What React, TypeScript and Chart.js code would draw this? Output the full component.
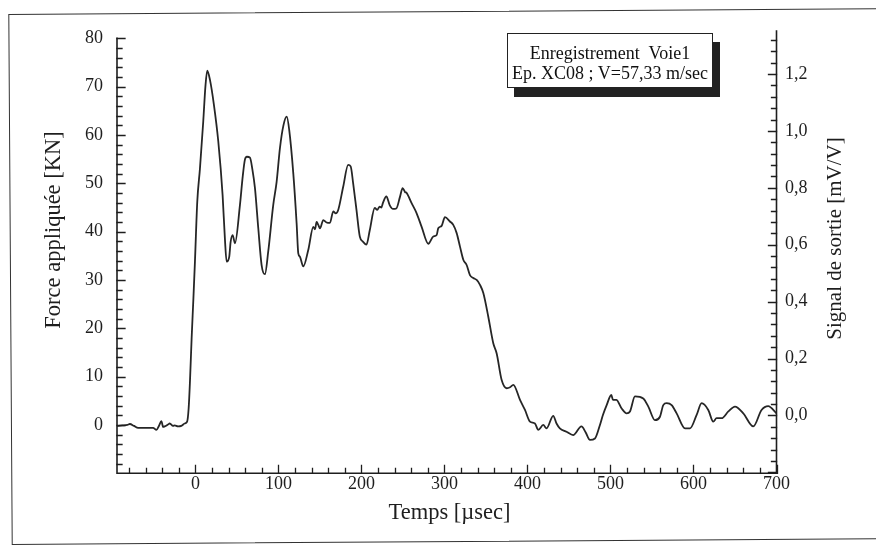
import React, { useEffect, useRef } from 'react';
import { Chart, registerables } from 'chart.js';

Chart.register(...registerables);

// ---- data ----
const timeUs = [
  -95, -88, -82, -79, -74, -69, -60, -51, -47, -44, -41, -39, -37, -33, -31, -27, -25, -21, -17, -13,
  -10, -8.2, -6.6, -4.6, -2.5, -0.6, 2.2, 5.4, 9.4, 12, 14.2, 17.5, 22.3, 27.5, 32.7, 35.5, 37.6, 40.7,
  42.4, 44.8, 47.6, 53.6, 57, 59.6, 62, 65.7, 68.5, 71.7, 75.7, 79.7, 83.7, 87.7, 93.7, 97.8, 101.8,
  106, 110, 113, 117.9, 121.9, 123.9, 125.9, 129.9, 135.9, 142, 144, 146, 148, 150, 154, 158, 162,
  166, 169, 172, 178, 184, 187, 190, 194, 198, 202, 206, 210, 216, 219, 222, 224, 226, 230, 234, 238,
  242, 246.4, 249.6, 252.5, 254.5, 260.4, 266.5, 272.5, 280.5, 286.5, 290.6, 292.5, 296.6, 300.6,
  306.6, 310.6, 314.7, 318.7, 322.7, 326.7, 330.7, 334.7, 338.8, 342.8, 346.8, 352.8, 358.8, 362.9,
  368.9, 374.9, 379, 382.9, 391, 397, 403, 409, 413, 419, 423, 431, 435, 439, 447, 455, 465, 470,
  475.3, 481.3, 487.3, 491, 495.4, 501, 503, 507, 513.5, 519.5, 523.5, 529.5, 539.5, 545.6, 553.6,
  559.6, 563.6, 567.7, 573.7, 579.7, 589.8, 595.8, 603.8, 609.8, 617.8, 623.8, 627.8, 634, 642, 650,
  660, 672, 682, 690, 700,
];
const forceKN = [
  -0.2, -0.1, 0, 0.2, -0.2, -0.6, -0.6, -0.6, -1.0, -0.2, 0.8, -0.4, -0.3, 0.1, 0.3, -0.2, -0.1, -0.3, -0.2, 0.3,
  0.7, 3.4, 9, 17.9, 26, 33.8, 46.2, 53, 62.8, 70, 73.3, 71.4, 66.2, 58.7, 47.6, 38.5, 33.8, 34.8,
  37.9, 39.3, 37.6, 45.5, 51.5, 54.9, 55.5, 55.3, 53, 49, 40.7, 33.1, 31.2, 35.9, 45.5, 50.3, 57.3,
  62, 63.8, 61, 52, 41.7, 35.5, 34.8, 32.8, 36.2, 41, 40.5, 42, 41.4, 40.7, 42.4, 41.9, 41.8,
  44.2, 43.8, 44.5, 49.3, 53.8, 53.5, 50, 44.5, 39, 37.9, 37.3, 40.3, 44.9, 44.5, 45.2, 45.0, 46, 47.3, 45.5, 44.7,
  44.8, 47.2, 49, 48.2, 48, 45.9, 43.8, 41, 37.5, 39, 39.3, 40.7, 41.2, 43,
  42.1, 41.4, 39.7, 36.9, 34.2, 33.1, 31, 30.4, 30, 29, 27.3, 22.4, 16.9, 14.8,
  9.3, 7.6, 7.8, 8.3, 5.2, 3.1, 0.7, 0.3, -1, 0, -0.7, 1.9, 0.3, -0.7, -1.4, -2.1, -0.3, -1.5,
  -3.1, -2.8, 0, 2.1, 4.1, 6.2, 5.2, 5.2, 3.4, 2.4, 2.8, 5.9, 5.5, 3.8, 1.0,
  1.7, 4.1, 4.5, 4.1, 2.4, -0.7, -0.7, 2.1, 4.5, 3.1, 0.7, 1.4, 1.4, 2.8, 3.8,
  2.4, -0.3, 3.1, 3.9, 2.4,
];

const xTickLabels = [0, 100, 200, 300, 400, 500, 600, 700];
const leftTickLabels = [0, 10, 20, 30, 40, 50, 60, 70, 80];
const rightTickLabels = [0, 0.2, 0.4, 0.6, 0.8, 1.0, 1.2];

const xTitle = 'Temps [µsec]';
const leftTitle = 'Force appliquée [KN]';
const rightTitle = 'Signal de sortie [mV/V]';
const legendLine1 = 'Enregistrement  Voie1';
const legendLine2 = 'Ep. XC08 ; V=57,33 m/sec';

const SERIF = "'Liberation Serif', 'Times New Roman', serif";
const INK = '#1e1e1e';

const axesPlugin = {
  id: 'paperAxes',
  afterDraw(chart: any) {
    const ctx = chart.ctx as CanvasRenderingContext2D;
    const xs = chart.scales.x;
    const yl = chart.scales.yLeft;
    const yr = chart.scales.yRight;
    const { left, right, top, bottom } = chart.chartArea;
    ctx.save();
    ctx.strokeStyle = INK;
    ctx.lineWidth = 1.6;
    ctx.lineCap = 'square';
    // axis lines
    ctx.beginPath();
    ctx.moveTo(left, yl.getPixelForValue(80));
    ctx.lineTo(left, bottom);
    ctx.lineTo(right, bottom);
    ctx.moveTo(right, bottom);
    ctx.lineTo(right, top);
    ctx.stroke();

    ctx.lineWidth = 1.3;
    ctx.beginPath();
    // left ticks (inward), minor every 2
    for (let v = -8; v <= 80; v += 2) {
      const y = Math.round(yl.getPixelForValue(v)) + 0.5;
      const len = v % 10 === 0 ? 8 : 5;
      ctx.moveTo(left, y);
      ctx.lineTo(left + len, y);
    }
    // x ticks (inward), minor every 20
    for (let v = -80; v <= 700; v += 20) {
      const x = Math.round(xs.getPixelForValue(v)) + 0.5;
      const len = v % 100 === 0 ? 8 : 5;
      ctx.moveTo(x, bottom);
      ctx.lineTo(x, bottom - len);
    }
    // right ticks (inward), minor every 0.04
    for (let i = -5; i <= 33; i++) {
      const v = i * 0.04;
      const y = Math.round(yr.getPixelForValue(v)) + 0.5;
      const len = i % 5 === 0 ? 8 : 5;
      ctx.moveTo(right, y);
      ctx.lineTo(right - len, y);
    }
    ctx.stroke();

    // titles
    ctx.fillStyle = INK;
    ctx.textAlign = 'center';
    ctx.textBaseline = 'alphabetic';
    ctx.font = `22.5px ${SERIF}`;
    ctx.fillText(xTitle, 449.5, 519);

    ctx.save();
    ctx.translate(59.5, 230);
    ctx.rotate(-Math.PI / 2);
    ctx.font = `22.5px ${SERIF}`;
    ctx.fillText(leftTitle, 0, 0);
    ctx.restore();

    ctx.save();
    ctx.translate(841, 238.5);
    ctx.rotate(-Math.PI / 2);
    ctx.font = `21px ${SERIF}`;
    ctx.fillText(rightTitle, 0, 0);
    ctx.restore();

    ctx.restore();
  },
};

export default function App() {
  const canvasRef = useRef<HTMLCanvasElement | null>(null);

  useEffect(() => {
    const canvas = canvasRef.current;
    if (!canvas) return;
    const tickFont = { family: SERIF, size: 18 };
    const chart = new Chart(canvas, {
      type: 'line',
      data: {
        datasets: [
          {
            data: timeUs.map((t, i) => ({ x: t, y: forceKN[i] })),
            yAxisID: 'yLeft',
            xAxisID: 'x',
            borderColor: '#262626',
            borderWidth: 1.8,
            pointRadius: 0,
            cubicInterpolationMode: 'monotone',
            fill: false,
          },
        ],
      },
      options: {
        animation: false,
        responsive: false,
        devicePixelRatio: 1,
        events: [],
        layout: { padding: { top: 31.1, left: 0, right: 0, bottom: 0 } },
        plugins: { legend: { display: false }, tooltip: { enabled: false } },
        scales: {
          x: {
            type: 'linear',
            position: 'bottom',
            min: -94.5,
            max: 700,
            grid: { display: false, drawTicks: false },
            border: { display: false },
            ticks: { font: tickFont, color: INK, padding: 0, maxRotation: 0, autoSkip: false },
            afterBuildTicks: (s: any) => {
              s.ticks = xTickLabels.map((v) => ({ value: v }));
            },
            afterFit: (s: any) => {
              s.height = 75.7;
            },
          },
          yLeft: {
            type: 'linear',
            position: 'left',
            min: -10,
            max: 81.5,
            grid: { display: false, drawTicks: false },
            border: { display: false },
            ticks: { font: tickFont, color: INK, padding: 14, autoSkip: false },
            afterBuildTicks: (s: any) => {
              s.ticks = leftTickLabels.map((v) => ({ value: v }));
            },
            afterFit: (s: any) => {
              s.width = 117;
            },
          },
          yRight: {
            type: 'linear',
            position: 'right',
            min: -0.2035,
            max: 1.351,
            grid: { display: false, drawTicks: false },
            border: { display: false },
            ticks: {
              font: tickFont,
              color: INK,
              padding: 8.5,
              autoSkip: false,
              callback: (v: any) => Number(v).toFixed(1).replace('.', ','),
            },
            afterBuildTicks: (s: any) => {
              s.ticks = rightTickLabels.map((v) => ({ value: v }));
            },
            afterFit: (s: any) => {
              s.width = 99.5;
            },
          },
        },
      } as any,
      plugins: [axesPlugin],
    });
    return () => chart.destroy();
  }, []);

  return (
    <div
      style={{
        position: 'fixed',
        left: 0,
        top: 0,
        width: 876,
        height: 549,
        overflow: 'hidden',
        background: '#ffffff',
      }}
    >
      <div
        style={{
          position: 'absolute',
          left: 10,
          top: 10.5,
          width: 900,
          height: 531,
          boxSizing: 'border-box',
          border: '1.8px solid #333',
          transform: 'rotate(-0.37deg)',
        }}
      />
      <canvas
        ref={canvasRef}
        width={876}
        height={549}
        style={{ position: 'absolute', left: 0, top: 0, width: 876, height: 549 }}
      />
      <div
        style={{
          position: 'absolute',
          left: 507,
          top: 33.3,
          width: 206,
          height: 55,
          boxSizing: 'border-box',
          border: '1.5px solid #222',
          background: '#fff',
          boxShadow: '7px 9px 0 #222',
          paddingTop: 8.5,
          textAlign: 'center',
          fontFamily: SERIF,
          fontSize: 18,
          lineHeight: '20px',
          color: '#111',
          whiteSpace: 'pre',
        }}
      >
        <div>{legendLine1}</div>
        <div>{legendLine2}</div>
      </div>
    </div>
  );
}
